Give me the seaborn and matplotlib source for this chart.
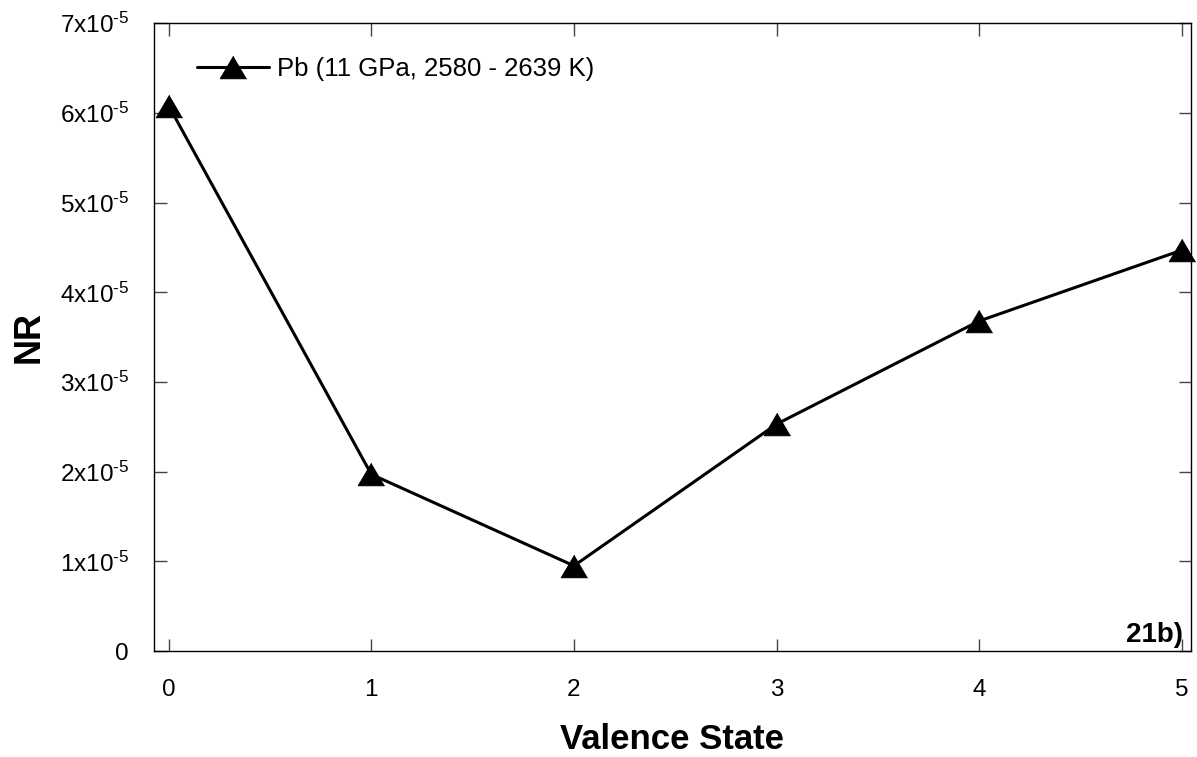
import matplotlib
matplotlib.use("Agg")
import matplotlib.pyplot as plt
import seaborn as sns
import pandas as pd

valence_state = [0, 1, 2, 3, 4, 5]
nr_values = [6.08e-5, 1.97e-5, 0.95e-5, 2.53e-5, 3.68e-5, 4.47e-5]
series_label = "Pb (11 GPa, 2580 - 2639 K)"
ytick_values = [0, 1e-5, 2e-5, 3e-5, 4e-5, 5e-5, 6e-5, 7e-5]
ytick_labels = ["0"] + ["$\\mathregular{%dx10^{\u20105}}$" % k for k in range(1, 8)]
xtick_values = [0, 1, 2, 3, 4, 5]

sns.set_theme(style="ticks")
plt.rcParams["font.family"] = ["Liberation Sans", "DejaVu Sans"]
plt.rcParams["mathtext.fontset"] = "custom"
plt.rcParams["mathtext.rm"] = "Liberation Sans"
plt.rcParams["text.color"] = "black"
plt.rcParams["axes.labelcolor"] = "black"
plt.rcParams["xtick.color"] = "black"
plt.rcParams["ytick.color"] = "black"

df = pd.DataFrame({"Valence State": valence_state, "NR": nr_values})

fig = plt.figure(figsize=(11.97, 7.57), dpi=100)
ax = fig.add_axes([154/1197, 106/757, (1190.7-154)/1197, (651-23.3)/757])

tri = [(0, 0.85), (-1, -0.85), (1, -0.85)]
sns.lineplot(data=df, x="Valence State", y="NR", ax=ax, color="black",
             linewidth=2.2, marker=tri, markersize=19, markeredgecolor="black",
             markerfacecolor="black", label=series_label, clip_on=False)

ax.set_xlim(-0.0726, 5.044)
ax.set_ylim(0, 7e-5)
ax.set_xticks(xtick_values)
ax.set_xticklabels([str(v) for v in xtick_values])
ax.set_yticks(ytick_values)
ax.set_yticklabels(ytick_labels)

ax.tick_params(axis="both", which="major", direction="in", length=9, width=1,
               color="#444444", labelsize=17.5, labelcolor="black",
               top=True, right=True)
ax.tick_params(axis="y", pad=18)
ax.tick_params(axis="x", pad=20)
for s in ax.spines.values():
    s.set_visible(True)
    s.set_linewidth(1.0)
    s.set_color("black")

ax.set_xlabel("Valence State", fontsize=25, fontweight="bold", color="black")
ax.set_ylabel("NR", fontsize=26, fontweight="bold", color="black")
ax.xaxis.set_label_coords(0.5, -0.114)
ax.yaxis.set_label_coords(-0.104, 0.5)

ax.text(0.9926, 0.015, "21b)", transform=ax.transAxes, ha="right",
        va="baseline", fontsize=20, fontweight="bold", color="black")

leg = ax.legend(loc="center left", bbox_to_anchor=(0.0415, 0.927),
                frameon=False, fontsize=18.5, handlelength=2.8,
                handletextpad=0.33, borderpad=0, borderaxespad=0,
                numpoints=1)
for t in leg.get_texts():
    t.set_color("black")

fig.savefig("out.png", dpi=100)
